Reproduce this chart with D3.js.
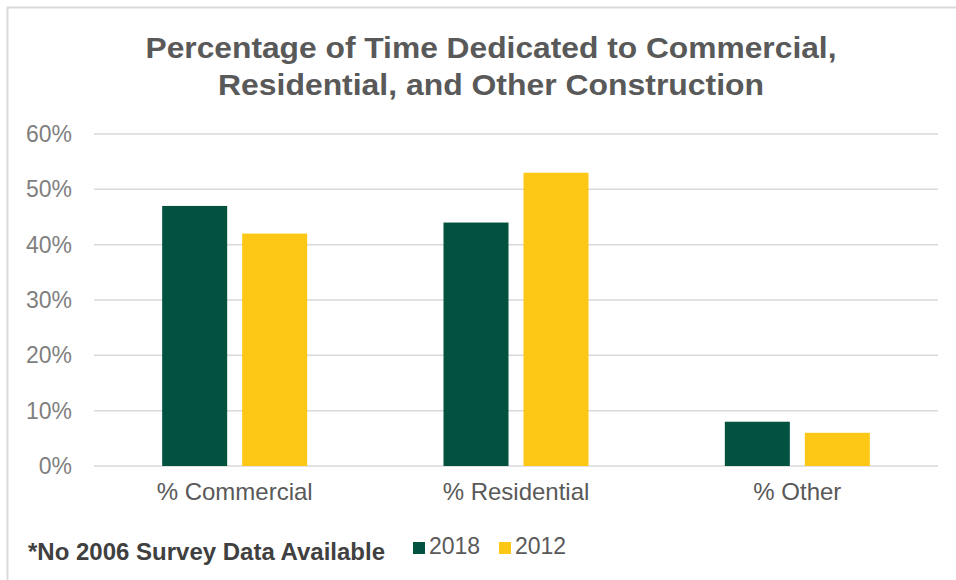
<!DOCTYPE html>
<meta charset="utf-8">
<script src="https://d3js.org/d3.v7.min.js"></script>
<style>
  body { margin: 0; background: #fff; }
  text { font-family: "Liberation Sans", Arial, sans-serif; }
</style>
<svg id="chart" width="956" height="580"></svg>
<script>

// values
const categories = ["% Commercial", "% Residential", "% Other"];
const seriesNames = ["2018", "2012"];
const values2018 = [47, 44, 8];
const values2012 = [42, 53, 6];
const yTicks = [0, 10, 20, 30, 40, 50, 60];
const titleLines = ["Percentage of Time Dedicated to Commercial,", "Residential, and Other Construction"];
const footnote = "*No 2006 Survey Data Available";

const colors = { "2018": "#03513F", "2012": "#FDC716" };

const svg = d3.select("#chart");

// outer chart border (only top and left fall inside the picture)
svg.append("rect")
    .attr("x", 7.5).attr("y", 7.5)
    .attr("width", 1000).attr("height", 1000)
    .attr("fill", "none")
    .attr("stroke", "#d9d9d9")
    .attr("stroke-width", 2);

const plot = { left: 94, right: 938, top: 134, bottom: 466 };

const x0 = d3.scaleBand()
    .domain(categories)
    .range([plot.left, plot.right]);

// bars 65 wide, 15 apart, centred in each band
const barStep = 80;
const x1 = d3.scaleBand()
    .domain(seriesNames)
    .range([x0.bandwidth() / 2 - barStep, x0.bandwidth() / 2 + barStep])
    .paddingInner(15 / 80)
    .paddingOuter(7.5 / 80);

const y = d3.scaleLinear()
    .domain([0, 60])
    .range([plot.bottom, plot.top]);

// gridlines
svg.append("g")
    .selectAll("line")
    .data(yTicks)
    .join("line")
      .attr("x1", plot.left).attr("x2", plot.right)
      .attr("y1", d => y(d)).attr("y2", d => y(d))
      .attr("stroke", "#d9d9d9")
      .attr("stroke-width", 1.5);

// y axis labels
const yAxis = d3.axisLeft(y)
    .tickValues(yTicks)
    .tickFormat(d => d + "%")
    .tickSize(0)
    .tickPadding(0);

svg.append("g")
    .attr("transform", `translate(72,0)`)
    .call(yAxis)
    .call(g => g.select(".domain").remove())
    .selectAll("text")
      .attr("fill", "#7f7f7f")
      .style("font-size", "23px")
      .style("font-family", "'Liberation Sans', Arial, sans-serif");

// bars
const rows = categories.map((c, i) => ({ cat: c, vals: [
  { s: "2018", v: values2018[i] },
  { s: "2012", v: values2012[i] }
]}));

svg.append("g")
  .selectAll("g")
  .data(rows)
  .join("g")
    .attr("transform", d => `translate(${x0(d.cat)},0)`)
  .selectAll("rect")
  .data(d => d.vals)
  .join("rect")
    .attr("x", d => x1(d.s))
    .attr("width", x1.bandwidth())
    .attr("y", d => y(d.v))
    .attr("height", d => y(0) - y(d.v))
    .attr("fill", d => colors[d.s]);

// category labels
const xAxis = d3.axisBottom(x0).tickSize(0).tickPadding(0);
svg.append("g")
    .attr("transform", `translate(0,483)`)
    .call(xAxis)
    .call(g => g.select(".domain").remove())
    .selectAll("text")
      .attr("fill", "#595959")
      .style("font-size", "24px")
      .style("font-family", "'Liberation Sans', Arial, sans-serif");

// title
const titleWidths = [691, 546];
svg.append("g")
  .selectAll("text")
  .data(titleLines)
  .join("text")
    .attr("text-anchor", "middle")
    .attr("x", 491)
    .attr("y", (d, i) => 58 + i * 37)
    .attr("fill", "#595959")
    .attr("textLength", (d, i) => titleWidths[i])
    .attr("lengthAdjust", "spacingAndGlyphs")
    .style("font-size", "30px")
    .style("font-weight", "bold")
    .text(d => d);

// footnote
svg.append("text")
    .attr("x", 28).attr("y", 560)
    .attr("fill", "#404040")
    .attr("textLength", 357)
    .attr("lengthAdjust", "spacingAndGlyphs")
    .style("font-size", "23px")
    .style("font-weight", "bold")
    .text(footnote);

// legend
const legendX = [413, 499];
const legend = svg.append("g")
  .selectAll("g")
  .data(seriesNames)
  .join("g")
    .attr("transform", (d, i) => `translate(${legendX[i]},542)`);

legend.append("rect")
    .attr("width", 12).attr("height", 12)
    .attr("fill", d => colors[d]);

legend.append("text")
    .attr("x", 16).attr("y", 12)
    .attr("fill", "#595959")
    .style("font-size", "23px")
    .text(d => d);

</script>
